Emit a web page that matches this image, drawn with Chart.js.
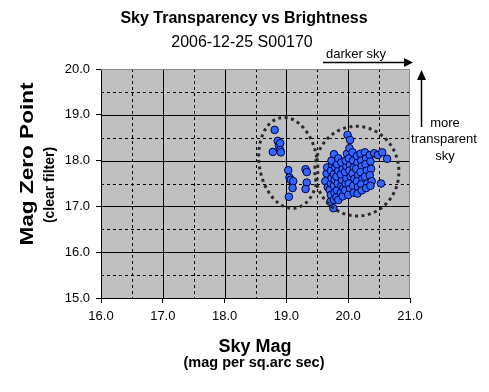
<!DOCTYPE html>
<html><head><meta charset="utf-8">
<script src="https://cdn.jsdelivr.net/npm/chart.js@4/dist/chart.umd.min.js"></script>
<style>html,body{margin:0;padding:0;background:#fff}canvas{display:block}</style>
</head><body>
<canvas id="c" width="489" height="392"></canvas>
<script>
// ---- data ----
const title = 'Sky Transparency vs Brightness';
const subtitle = '2006-12-25 S00170';
const xTitle = ['Sky Mag', '(mag per sq.arc sec)'];
const yTitle = ['Mag Zero Point', '(clear filter)'];
const xTicks = [16, 17, 18, 19, 20, 21];
const yTicks = [15, 16, 17, 18, 19, 20];
const xMinor = [16.5, 17.5, 18.5, 19.5, 20.5];
const yMinor = [15.5, 16.5, 17.5, 18.5, 19.5];

const skyMag = [
  18.81,18.86,18.88,18.90,18.78,18.90,18.91,19.03,19.05,19.07,19.11,19.10,19.04,19.31,19.33,19.33,19.31,
  19.63,19.65,19.66,19.67,
  19.70,19.71,19.72,19.72,19.73,19.72,19.74,19.73,
  19.76,19.77,19.78,19.77,19.78,19.77,19.79,19.77,
  19.81,19.82,19.83,19.81,19.84,19.82,19.84,19.84,
  19.88,19.89,19.90,19.88,19.91,19.89,19.92,19.91,
  19.95,19.96,19.97,19.95,19.97,19.96,19.98,
  19.99,20.03,20.02,20.01,20.03,20.02,20.04,20.01,20.03,20.00,
  20.07,20.08,20.09,20.07,20.10,20.08,20.09,
  20.14,20.15,20.13,20.16,20.14,20.16,20.15,
  20.20,20.21,20.22,20.20,20.23,20.21,20.22,
  20.27,20.29,20.28,20.30,20.27,20.31,20.29,
  20.35,20.36,20.37,20.35,20.38,20.36,
  20.42,20.48,20.55,20.63,20.53
];
const zeroPoint = [
  18.67,18.43,18.33,18.38,18.19,18.23,18.18,17.79,17.63,17.58,17.55,17.40,17.21,17.81,17.75,17.52,17.38,
  17.55,17.72,17.85,17.42,
  17.36,17.10,17.25,17.50,17.62,17.78,17.92,18.00,
  16.96,17.14,17.30,17.45,17.58,17.70,17.85,18.14,
  17.20,17.35,17.50,17.65,17.78,17.92,18.05,17.14,
  17.30,17.45,17.58,17.70,17.82,17.96,17.40,17.22,
  17.35,17.50,17.62,17.75,17.88,18.00,18.15,
  18.56,18.45,18.27,18.05,17.90,17.78,17.65,17.50,17.38,17.25,
  18.18,18.00,17.85,17.72,17.60,17.45,17.30,
  18.10,17.95,17.82,17.68,17.55,17.42,17.28,
  18.15,18.00,17.88,17.75,17.60,17.48,17.35,
  18.18,18.05,17.92,17.78,17.65,17.50,17.40,
  18.12,17.98,17.82,17.68,17.55,17.45,
  18.16,18.12,18.18,18.04,17.50
];
const points = skyMag.map((x, i) => ({x: x, y: zeroPoint[i]}));

// group outlines (data units): centre x, centre y, radius x, radius y, tilt
const groupRings = [
  {cx: 19.03, cy: 17.95, rx: 0.47, ry: 1.00, tilt: -0.16},
  {cx: 20.14, cy: 17.77, rx: 0.68, ry: 0.98, tilt: -0.10}
];

const TXT = '#000';
const FONT = '"Liberation Sans", Arial, sans-serif';

const decor = {
  id: 'decor',
  beforeDraw(chart) {
    const {ctx, chartArea: a} = chart;
    ctx.save();
    ctx.fillStyle = '#c0c0c0';
    ctx.fillRect(a.left, a.top, a.right - a.left, a.bottom - a.top);
    ctx.restore();
  },
  beforeDatasetsDraw(chart) {
    const {ctx, chartArea: a, scales: {x, y}} = chart;
    ctx.save();
    ctx.lineWidth = 1;
    ctx.strokeStyle = '#000';
    ctx.setLineDash([3, 3]);
    ctx.beginPath();
    yMinor.forEach(v => { const p = Math.round(y.getPixelForValue(v)) + 0.5; ctx.moveTo(a.left, p); ctx.lineTo(a.right, p); });
    xMinor.forEach(v => { const p = Math.round(x.getPixelForValue(v)) + 0.5; ctx.moveTo(p, a.top); ctx.lineTo(p, a.bottom); });
    ctx.stroke();
    ctx.setLineDash([]);
    ctx.beginPath();
    yTicks.slice(1, -1).forEach(v => { const p = Math.round(y.getPixelForValue(v)) + 0.5; ctx.moveTo(a.left, p); ctx.lineTo(a.right, p); });
    xTicks.slice(1, -1).forEach(v => { const p = Math.round(x.getPixelForValue(v)) + 0.5; ctx.moveTo(p, a.top); ctx.lineTo(p, a.bottom); });
    ctx.stroke();
    ctx.strokeStyle = '#8a8a8a';
    ctx.beginPath();
    ctx.moveTo(a.left, a.top + 0.5); ctx.lineTo(a.right - 0.5, a.top + 0.5); ctx.lineTo(a.right - 0.5, a.bottom);
    ctx.stroke();
    ctx.restore();
  },
  afterDatasetsDraw(chart) {
    const {ctx, scales: {x, y}} = chart;
    ctx.save();
    ctx.strokeStyle = '#2a2a2a';
    ctx.lineWidth = 3;
    ctx.setLineDash([3, 3.5]);
    groupRings.forEach(r => {
      const cx = x.getPixelForValue(r.cx), cy = y.getPixelForValue(r.cy);
      const rx = x.getPixelForValue(r.cx + r.rx) - cx;
      const ry = cy - y.getPixelForValue(r.cy + r.ry);
      ctx.beginPath();
      ctx.ellipse(cx, cy, rx, ry, r.tilt, 0, Math.PI * 2);
      ctx.stroke();
    });
    ctx.restore();
  },
  afterDraw(chart) {
    const {ctx} = chart;
    ctx.save();
    ctx.fillStyle = TXT;
    ctx.textAlign = 'center';
    ctx.textBaseline = 'alphabetic';
    ctx.font = 'bold 16px ' + FONT;
    ctx.fillText(title, 244, 23);
    ctx.font = '16px ' + FONT;
    ctx.fillText(subtitle, 242, 47);
    ctx.font = 'bold 18px ' + FONT;
    ctx.fillText(xTitle[0], 255, 352);
    ctx.font = 'bold 14.5px ' + FONT;
    ctx.fillText(xTitle[1], 254, 367);
    // y titles
    ctx.save();
    ctx.translate(33, 164);
    ctx.rotate(-Math.PI / 2);
    ctx.font = 'bold 18px ' + FONT;
    const w0 = ctx.measureText(yTitle[0]).width;
    ctx.scale(163 / w0, 1);
    ctx.fillText(yTitle[0], 0, 0);
    ctx.restore();
    ctx.save();
    ctx.translate(54, 185);
    ctx.rotate(-Math.PI / 2);
    ctx.font = 'bold 14px ' + FONT;
    ctx.fillText(yTitle[1], 0, 0);
    ctx.restore();
    // annotations
    ctx.font = '13px ' + FONT;
    ctx.fillText('darker sky', 356, 58);
    ctx.fillText('more', 445, 127);
    ctx.fillText('transparent', 444, 143);
    ctx.fillText('sky', 445, 160);
    ctx.strokeStyle = '#000';
    ctx.fillStyle = '#000';
    ctx.lineWidth = 1.5;
    ctx.beginPath();
    ctx.moveTo(323, 62.5); ctx.lineTo(406, 62.5);
    ctx.moveTo(421.5, 127); ctx.lineTo(421.5, 78);
    ctx.stroke();
    ctx.beginPath();
    ctx.moveTo(413, 62.5); ctx.lineTo(404, 58); ctx.lineTo(404, 67); ctx.closePath();
    ctx.moveTo(421.5, 70); ctx.lineTo(417, 80); ctx.lineTo(426, 80); ctx.closePath();
    ctx.fill();
    ctx.restore();
  }
};

new Chart(document.getElementById('c'), {
  type: 'scatter',
  data: {
    datasets: [{
      data: points,
      pointStyle: 'circle',
      pointRadius: 3.8,
      pointHoverRadius: 3.8,
      backgroundColor: '#3366ff',
      borderColor: '#000040',
      borderWidth: 1
    }]
  },
  options: {
    responsive: false,
    animation: false,
    devicePixelRatio: 1,
    layout: {padding: {left: 0, top: 69, right: 79, bottom: 0}},
    plugins: {legend: {display: false}, tooltip: {enabled: false}, title: {display: false}},
    scales: {
      x: {
        type: 'linear', min: 16, max: 21,
        afterFit(s) { s.height = 94; },
        ticks: {stepSize: 1, padding: 6, color: TXT, font: {family: FONT, size: 13},
          callback: v => Number(v).toFixed(1)},
        grid: {drawOnChartArea: false, drawTicks: true, tickLength: 5, color: '#000'},
        border: {display: true, color: '#000', width: 1}
      },
      y: {
        type: 'linear', min: 15, max: 20,
        afterFit(s) { s.width = 101; },
        ticks: {stepSize: 1, padding: 6, color: TXT, font: {family: FONT, size: 13},
          callback: v => Number(v).toFixed(1)},
        grid: {drawOnChartArea: false, drawTicks: true, tickLength: 5, color: '#000'},
        border: {display: true, color: '#000', width: 1}
      }
    }
  },
  plugins: [decor]
});
</script>
</body></html>
